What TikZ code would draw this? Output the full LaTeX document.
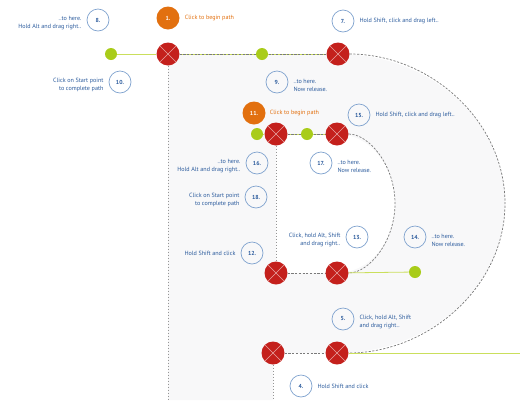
\documentclass[tikz,border=0pt]{standalone}
\usepackage{fontspec}
\setmainfont{PT Sans}
\usepackage{tikz}
\usetikzlibrary{positioning,backgrounds}
\definecolor{ptRed}{HTML}{C4201C}
\definecolor{handleGreen}{HTML}{A9CC1A}
\definecolor{guideGreen}{HTML}{CADF5C}
\definecolor{stepOrange}{HTML}{E2700F}
\definecolor{stepBlue}{HTML}{2A5A9C}
\definecolor{ringBlue}{HTML}{7FA2CE}
\definecolor{pathGray}{HTML}{7A7A7A}
\definecolor{shapeFill}{HTML}{F8F8F9}

\tikzset{
  anchorpt/.style={circle, fill=ptRed, minimum size=23pt, inner sep=0pt,
    path picture={\draw[white!60!ptRed, line width=0.5pt]
      (path picture bounding box.north west) -- (path picture bounding box.south east)
      (path picture bounding box.north east) -- (path picture bounding box.south west);}},
  handlept/.style={circle, fill=handleGreen, minimum size=12pt, inner sep=0pt},
  startnum/.style={circle, fill=stepOrange, minimum size=23pt, inner sep=0pt,
    text=white, font=\fontsize{5.8}{6}\selectfont\bfseries},
  stepnum/.style={circle, draw=ringBlue, line width=0.7pt, minimum size=22pt,
    inner sep=0pt, text=stepBlue, font=\fontsize{5.8}{6}\selectfont\bfseries},
  tip/.style={text=stepBlue, font=\fontsize{6.1}{8.2}\selectfont, inner sep=0pt},
  tipleft/.style={tip, align=right},
  tipright/.style={tip, align=left},
  pathline/.style={pathGray, dash pattern=on 2.2pt off 1.5pt, line width=0.7pt},
  dropline/.style={pathGray!80, dash pattern=on 1.1pt off 1.9pt, line width=1pt},
  guide/.style={guideGreen, line width=0.8pt},
}

\begin{document}
\begin{tikzpicture}[x=1pt, y=-1pt]
  \useasboundingbox (0,0) rectangle (520,400);

  % outer path points
  \node[handlept] (hA) at (111,54) {};
  \node[anchorpt] (A) at (168,54) {};
  \node[handlept] (hB) at (262,54) {};
  \node[anchorpt] (B) at (338,54) {};
  \node[anchorpt] (D) at (273,353) {};
  \node[anchorpt] (C) at (337,353) {};
  \coordinate (outR) at (505,203.5);
  \coordinate (aBot) at (168,400);
  \coordinate (dBot) at (273,400);
  \coordinate (cEnd) at (520,353);

  % inner path points
  \node[handlept] (hE) at (257,134) {};
  \node[anchorpt] (E) at (276,134) {};
  \node[handlept] (hF) at (307,134) {};
  \node[anchorpt] (F) at (337,134) {};
  \node[anchorpt] (H) at (276,273) {};
  \node[anchorpt] (G) at (337,273) {};
  \node[handlept] (hG) at (415,272) {};
  \coordinate (inR) at (395,203.5);

  \begin{scope}[on background layer]
    \fill[shapeFill] (168,54) -- (338,54) .. controls (430,54) and (505,121) .. (505,203.5)
      .. controls (505,286) and (430,353) .. (337,353) -- (273,353) -- (273,400) -- (168,400) -- cycle;
    \fill[white] (276,134) -- (337,134) .. controls (369,134) and (395,165.5) .. (395,203.5)
      .. controls (395,241.5) and (369,273) .. (337,273) -- (276,273) -- cycle;

    \draw[guide] (hA) -- (A);
    \draw[guide] (A) -- (B);
    \draw[pathline] (A) -- (B);
    \draw[pathline] (B) .. controls +(92,0) and +(0,-82.5) .. (outR)
      .. controls +(0,82.5) and +(92,0) .. (C);
    \draw[pathline] (D) -- (C);
    \draw[guide, line width=0.7pt] (C) -- (cEnd);
    \draw[dropline] (A) -- (aBot);
    \draw[dropline] (D) -- (dBot);

    \draw[guide] (hE) -- (E);
    \draw[guide] (E) -- (F);
    \draw[pathline] (E) -- (F);
    \draw[pathline] (F) .. controls +(32,0) and +(0,-38) .. (inR)
      .. controls +(0,38) and +(32,0) .. (G);
    \draw[pathline] (H) -- (G);
    \draw[guide] (G) -- (hG);
    \draw[dropline] (E) -- (H);
  \end{scope}

  % steps
  \node[startnum] (s1) at (168,18) {1.};
  \node[tip, text=stepOrange, right=5pt of s1] (t1) {Click to begin path};
  \node[stepnum] (s8) at (98,20) {8.};
  \node[tipleft, left=5pt of s8, yshift=-3pt] (t8) {..to here.\\Hold Alt and drag right..};
  \node[stepnum] (s7) at (343,21) {7.};
  \node[tip, right=5pt of s7] (t7) {Hold Shift, click and drag left..};
  \node[stepnum] (s10) at (120,82) {10.};
  \node[tipleft, left=5pt of s10, yshift=-3pt] (t10) {Click on Start point\\to complete path};
  \node[stepnum] (s9) at (277,82) {9.};
  \node[tipright, right=5pt of s9, yshift=-3pt] (t9) {..to here.\\Now release.};
  \node[startnum] (s11) at (254,113) {11.};
  \node[tip, text=stepOrange, right=4pt of s11] (t11) {Click to begin path};
  \node[stepnum] (s15) at (359,115) {15.};
  \node[tip, right=5pt of s15] (t15) {Hold Shift, click and drag left..};
  \node[stepnum] (s16) at (257,163) {16.};
  \node[tipleft, left=5pt of s16, yshift=-3pt] (t16) {..to here.\\Hold Alt and drag right..};
  \node[stepnum] (s17) at (321,163) {17.};
  \node[tipright, right=5pt of s17, yshift=-3pt] (t17) {..to here.\\Now release.};
  \node[stepnum] (s18) at (256,197) {18.};
  \node[tipleft, left=5pt of s18, yshift=-3pt] (t18) {Click on Start point\\to complete path};
  \node[stepnum] (s13) at (357,237) {13.};
  \node[tipleft, left=5pt of s13, yshift=-3pt] (t13) {Click, hold Alt, Shift\\and drag right..};
  \node[stepnum] (s12) at (252,253) {12.};
  \node[tip, left=5pt of s12] (t12) {Hold Shift and click};
  \node[stepnum] (s14) at (415,237) {14.};
  \node[tipright, right=5pt of s14, yshift=-3pt] (t14) {..to here.\\Now release.};
  \node[stepnum] (s5) at (343,319) {5.};
  \node[tipright, right=5pt of s5, yshift=-3pt] (t5) {Click, hold Alt, Shift\\and drag right..};
  \node[stepnum] (s4) at (301,386) {4.};
  \node[tip, right=5pt of s4] (t4) {Hold Shift and click};
\end{tikzpicture}
\end{document}
